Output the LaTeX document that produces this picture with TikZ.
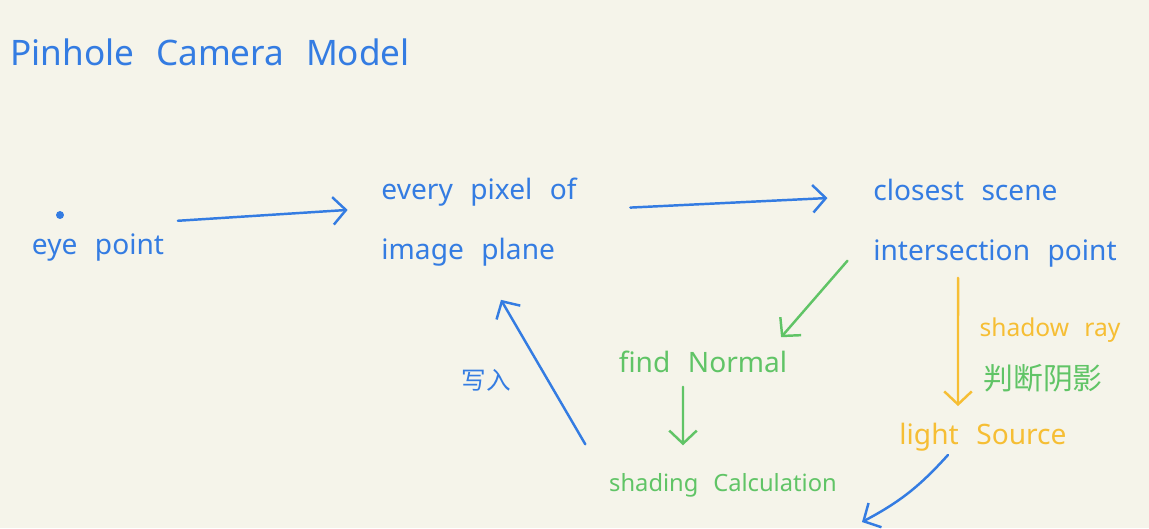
\documentclass[tikz,border=0pt]{standalone}
\usepackage{fontspec}
\setmainfont[WordSpace=2.4]{Noto Sans}
\newfontfamily\cjk{Noto Sans CJK SC}
\usetikzlibrary{arrows.meta,positioning}
\definecolor{pBlue}{RGB}{52,124,226}
\definecolor{pGreen}{RGB}{96,196,102}
\definecolor{pOrange}{RGB}{246,190,52}
\definecolor{pPaper}{RGB}{245,244,234}

\begin{document}
\begin{tikzpicture}[x=0.02cm,y=-0.02cm,
  txt/.style={inner sep=2pt,align=left,font=\fontsize{16}{34}\selectfont},
  btxt/.style={txt,text=pBlue},
  gtxt/.style={txt,text=pGreen},
  otxt/.style={txt,text=pOrange},
  hand/.style={line width=1.4pt,line cap=round,-{Straight Barb[length=2.6mm,width=5.5mm,line width=1.4pt]}}]

  \fill[pPaper] (0,0) rectangle (1149,528);

  % ---- title ----
  \node[btxt,font=\fontsize{20}{24}\selectfont] (title) at (210,52) {Pinhole Camera Model};

  % ---- main row ----
  \node[circle,fill=pBlue,inner sep=1.6pt] (dot) at (60,215) {};
  \node[btxt] (eye) at (98,248) {eye point};
  \node[btxt] (pixel) at (479,222) {every pixel of\\image plane};
  \node[btxt] (closest) at (995,223) {closest scene\\intersection point};

  % ---- lower part ----
  \node[gtxt] (normal) at (703,362) {find Normal};
  \node[gtxt,font=\fontsize{13.5}{17}\selectfont] (shading) at (723,485) {shading Calculation};
  \node[otxt] (light) at (983,437) {light Source};
  \node[otxt,font=\fontsize{14}{17}\selectfont] (shadow) at (1050,330) {shadow ray};
  \node[gtxt,font=\fontsize{17}{20}\cjk] (judge) at (1043,378) {判断阴影};
  \node[btxt,font=\fontsize{14}{17}\cjk] (write) at (486,380) {写入};
  \coordinate (away) at (862,522);

  % ---- connectors ----
  \draw[hand,pBlue,shorten <=0.2cm,shorten >=0.6cm] ([yshift=0.18cm]eye.north east) -- ([yshift=0.28cm]pixel.west);
  \draw[hand,pBlue,shorten <=1cm,shorten >=0.84cm] ([yshift=0.24cm]pixel.east) -- ([yshift=0.54cm]closest.west);
  \draw[hand,pGreen] ([shift={(-0.44cm,0.2cm)}]closest.south west) -- ([shift={(-0.2cm,0.2cm)}]normal.north east);
  \draw[hand,pGreen,shorten <=0.2cm,shorten >=0.48cm] ([xshift=-0.4cm]normal.south) -- ([xshift=-0.8cm]shading.north);
  \draw[hand,pBlue] ([shift={(-0.4cm,0.5cm)}]shading.north west) -- ([shift={(0.44cm,-0.6cm)}]pixel.south);
  \draw[hand,pOrange,shorten <=0.14cm,shorten >=0.26cm] ([xshift=-0.74cm]closest.south) -- ([xshift=-0.5cm]light.north);
  \draw[hand,pBlue] ([xshift=-0.7cm]light.south) to[bend left=10] (away);

\end{tikzpicture}
\end{document}
